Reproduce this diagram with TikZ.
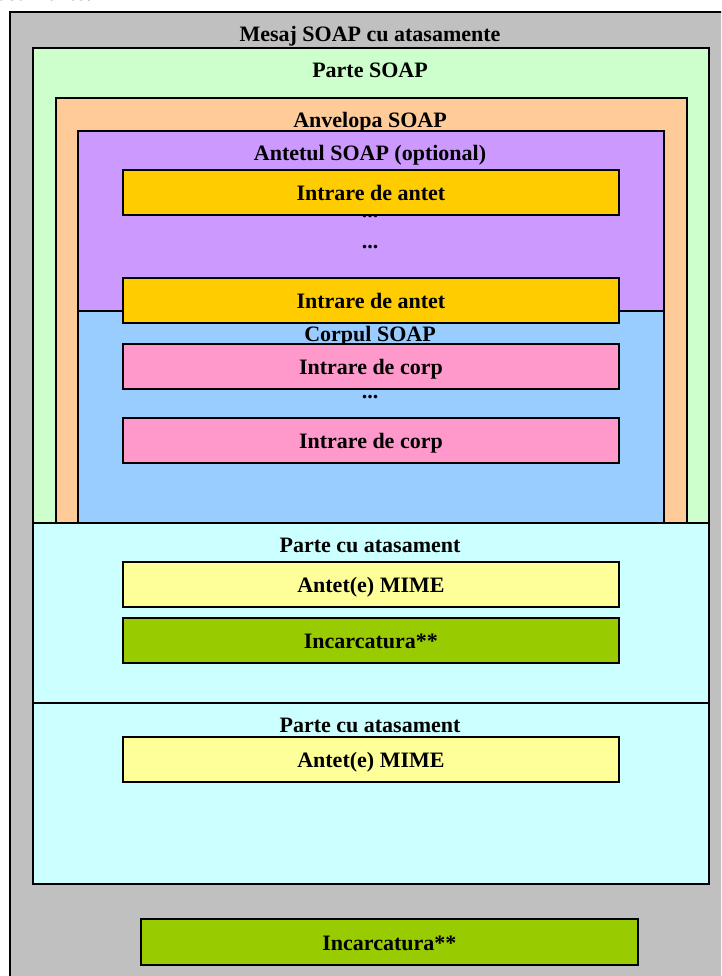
\documentclass[tikz,border=0pt]{standalone}
\usepackage{fontspec}
\setmainfont{Liberation Serif}
\usetikzlibrary{positioning}
\definecolor{SoapGray}{RGB}{192,192,192}
\definecolor{SoapMint}{RGB}{204,255,204}
\definecolor{SoapPeach}{RGB}{255,204,153}
\definecolor{SoapLilac}{RGB}{204,153,255}
\definecolor{SoapGold}{RGB}{255,204,0}
\definecolor{SoapSky}{RGB}{153,204,255}
\definecolor{SoapPink}{RGB}{255,153,204}
\definecolor{SoapCyan}{RGB}{204,255,255}
\definecolor{SoapCream}{RGB}{255,255,153}
\definecolor{SoapLime}{RGB}{153,204,0}
\tikzset{
  soap/frame/.style={
    draw=black,
    line width=1.8pt,
    inner sep=0pt,
    anchor=north west
  },
  soap/entry/.style={
    draw=black,
    line width=1.8pt,
    inner sep=0pt,
    anchor=north west,
    minimum width=496pt,
    minimum height=45pt,
    text height=17pt,
    text depth=0pt,
    font=\fontsize{22}{26}\selectfont\bfseries
  },
  soap/title/.style={
    anchor=base,
    inner sep=0pt,
    font=\fontsize{22}{26}\selectfont\bfseries
  }
}

\begin{document}
\begin{tikzpicture}[x=1pt,y=-1pt]
  \useasboundingbox (0,0) rectangle (721,976);
  \clip (0,0) rectangle (721,976);
  % caption cut by the page top
  \node[anchor=base east,inner sep=0pt,font=\fontsize{22}{26}\selectfont\bfseries] (cap) at (93,0.5) {atasamente:};
  % nested parts of the message
  \node[soap/frame,fill=SoapGray,minimum width=760pt,minimum height=1000pt] (msg) at (9,11) {};
  \node[soap/frame,fill=SoapMint,minimum width=676pt,minimum height=475pt] (part) at (32,47) {};
  \node[soap/frame,fill=SoapPeach,minimum width=631pt,minimum height=425pt] (env) at (55,97) {};
  \node[soap/frame,fill=SoapLilac,minimum width=586pt,minimum height=180pt] (hdr) at (77,130) {};
  \node[soap/frame,fill=SoapSky,minimum width=586pt,minimum height=212pt] (body) at (77,310) {};
  \node[soap/frame,fill=SoapCyan,minimum width=676pt,minimum height=180pt] (att1) at (32,522) {};
  \node[soap/frame,fill=SoapCyan,minimum width=676pt,minimum height=181pt] (att2) at (32,702) {};
  % titles
  \node[soap/title] (msgT) at (370,42) {Mesaj SOAP cu atasamente};
  \node[soap/title] (partT) at (370,78) {Parte SOAP};
  \node[soap/title] (envT) at (370,128) {Anvelopa SOAP};
  \node[soap/title] (hdrT) at (370,161) {Antetul SOAP (optional)};
  \node[soap/title] (hdrD1) at (370,218) {...};
  \node[soap/title] (hdrD2) at (370,248) {...};
  \node[soap/title] (bodyT) at (370,341) {Corpul SOAP};
  \node[soap/title] (bodyD) at (370,398) {...};
  \node[soap/title] (att1T) at (370,552) {Parte cu atasament};
  \node[soap/title] (att2T) at (370,732) {Parte cu atasament};
  % entries
  \node[soap/entry,fill=SoapGold] (hent1) at (122,169) {Intrare de antet};
  \node[soap/entry,fill=SoapGold] (hent2) at (122,277) {Intrare de antet};
  \node[soap/entry,fill=SoapPink] (bent1) at (122,343) {Intrare de corp};
  \node[soap/entry,fill=SoapPink] (bent2) at (122,417) {Intrare de corp};
  \node[soap/entry,fill=SoapCream] (mime1) at (122,561) {Antet(e) MIME};
  \node[soap/entry,fill=SoapLime] (load1) at (122,617) {Incarcatura**};
  \node[soap/entry,fill=SoapCream] (mime2) at (122,736) {Antet(e) MIME};
  \node[soap/entry,fill=SoapLime,minimum width=497pt,minimum height=46pt] (load2) at (140,918) {Incarcatura**};
\end{tikzpicture}
\end{document}
